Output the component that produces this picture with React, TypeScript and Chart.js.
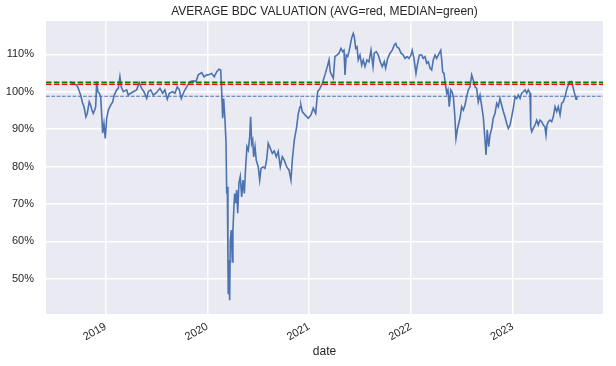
import React, { useEffect, useRef } from "react";
import { Chart, registerables } from "chart.js";

Chart.register(...registerables);

const TITLE = "AVERAGE BDC VALUATION (AVG=red, MEDIAN=green)";
const X_LABEL = "date";
const YEAR_TICKS = [2019, 2020, 2021, 2022, 2023];
const PCT_TICKS = [50, 60, 70, 80, 90, 100, 110];
const X_MIN = 2018.416;
const X_MAX = 2023.887;
const Y_MIN = 40.6;
const Y_MAX = 118.9;
const AVG_LEVEL = 102.0;
const MEDIAN_LEVEL = 102.55;
const LAST_LEVEL = 98.8;

// dates as decimal years
const DATES = [
  2018.651, 2018.684, 2018.717, 2018.733, 2018.756, 2018.776, 2018.789, 2018.808, 2018.821, 2018.841,
  2018.855, 2018.867, 2018.88, 2018.894, 2018.904, 2018.914, 2018.926, 2018.939, 2018.953, 2018.966,
  2018.972, 2018.985, 2018.998, 2019.012, 2019.028, 2019.051, 2019.071, 2019.086, 2019.11, 2019.126,
  2019.142, 2019.155, 2019.175, 2019.208, 2019.224, 2019.248, 2019.273, 2019.306, 2019.332, 2019.356,
  2019.378, 2019.405, 2019.42, 2019.444, 2019.47, 2019.503, 2019.535, 2019.562, 2019.584, 2019.607,
  2019.627, 2019.66, 2019.683, 2019.705, 2019.725, 2019.745, 2019.771, 2019.798, 2019.83, 2019.862,
  2019.889, 2019.912, 2019.945, 2019.968, 2019.994,
  2020.01, 2020.043, 2020.069, 2020.092, 2020.115, 2020.132, 2020.141, 2020.151, 2020.161, 2020.174,
  2020.184, 2020.191, 2020.197, 2020.203, 2020.206, 2020.213, 2020.22, 2020.226, 2020.236, 2020.246,
  2020.252, 2020.262, 2020.269, 2020.279, 2020.289, 2020.299, 2020.311, 2020.324, 2020.338, 2020.351,
  2020.364, 2020.377, 2020.39, 2020.403, 2020.417, 2020.426, 2020.436, 2020.446, 2020.456, 2020.469,
  2020.481, 2020.501, 2020.515, 2020.528, 2020.547, 2020.567, 2020.583, 2020.599, 2020.619, 2020.639,
  2020.658, 2020.678, 2020.697, 2020.717, 2020.737, 2020.756, 2020.78, 2020.803, 2020.822, 2020.835,
  2020.855, 2020.878, 2020.894, 2020.911, 2020.92, 2020.933, 2020.96, 2020.992,
  2021.019, 2021.041, 2021.065, 2021.084, 2021.107, 2021.13, 2021.156, 2021.183, 2021.196, 2021.208,
  2021.222, 2021.238, 2021.254, 2021.274, 2021.294, 2021.313, 2021.33, 2021.343, 2021.353, 2021.365,
  2021.379, 2021.392, 2021.405, 2021.418, 2021.434, 2021.444, 2021.458, 2021.471, 2021.483, 2021.5,
  2021.517, 2021.532, 2021.549, 2021.569, 2021.588, 2021.608, 2021.628, 2021.64, 2021.66, 2021.68,
  2021.699, 2021.719, 2021.739, 2021.752, 2021.772, 2021.795, 2021.817, 2021.837, 2021.851, 2021.863,
  2021.883, 2021.903, 2021.925, 2021.942, 2021.962, 2021.981,
  2022.001, 2022.013, 2022.03, 2022.05, 2022.063, 2022.083, 2022.106, 2022.122, 2022.139, 2022.155,
  2022.171, 2022.188, 2022.204, 2022.22, 2022.237, 2022.253, 2022.269, 2022.293, 2022.303, 2022.312,
  2022.325, 2022.338, 2022.352, 2022.364, 2022.377, 2022.391, 2022.404, 2022.417, 2022.43, 2022.443,
  2022.456, 2022.47, 2022.482, 2022.499, 2022.515, 2022.531, 2022.548, 2022.564, 2022.581, 2022.597,
  2022.613, 2022.63, 2022.646, 2022.662, 2022.679, 2022.696, 2022.711, 2022.728, 2022.738, 2022.75,
  2022.764, 2022.777, 2022.794, 2022.809, 2022.826, 2022.843, 2022.859, 2022.875, 2022.892, 2022.908,
  2022.924, 2022.941, 2022.957, 2022.974, 2022.99,
  2023.006, 2023.023, 2023.039, 2023.055, 2023.072, 2023.088, 2023.104, 2023.121, 2023.138, 2023.153,
  2023.17, 2023.177, 2023.187, 2023.202, 2023.219, 2023.236, 2023.251, 2023.268, 2023.285, 2023.301,
  2023.317, 2023.327, 2023.337, 2023.35, 2023.366, 2023.383, 2023.399, 2023.416, 2023.432, 2023.448,
  2023.465, 2023.481, 2023.497, 2023.514, 2023.53, 2023.546, 2023.563, 2023.58, 2023.595, 2023.612,
  2023.622, 2023.629,
];

// valuation in percent
const VALUATION = [
  102.7, 102.1, 101.8, 100.9, 99.1, 96.9, 96.0, 93.3, 94.2, 97.3,
  96.4, 95.1, 94.2, 95.1, 96.0, 102.7, 100.0, 99.6, 98.7, 92.4,
  88.9, 91.5, 87.5, 92.9, 95.1, 96.4, 97.3, 99.1, 100.5, 100.9,
  104.0, 101.3, 100.0, 100.5, 99.1, 99.6, 100.0, 100.5, 102.4, 100.9,
  100.0, 98.2, 100.0, 100.5, 99.1, 99.8, 100.9, 99.6, 100.5, 98.0,
  99.6, 100.0, 99.6, 101.3, 100.6, 98.2, 100.0, 101.3, 102.7, 102.9,
  102.7, 104.5, 105.1, 104.0, 104.5,
  104.5, 104.9, 104.0, 105.3, 106.0, 105.8, 100.5, 92.9, 98.2, 92.4,
  86.6, 72.8, 74.6, 55.0, 46.1, 55.0, 44.3, 60.3, 63.0, 54.5,
  63.0, 69.3, 72.8, 70.2, 73.7, 67.5, 75.5, 77.3, 71.9, 76.4,
  72.8, 79.9, 85.3, 84.4, 88.0, 93.3, 86.2, 87.1, 82.6, 85.3,
  81.7, 79.9, 76.4, 79.5, 79.9, 79.5, 81.7, 86.2, 84.9, 83.5,
  84.2, 82.6, 84.0, 79.9, 82.6, 81.7, 79.9, 79.1, 76.4, 81.7,
  87.1, 90.6, 94.2, 96.0, 96.4, 94.7, 93.8, 92.9,
  93.8, 95.6, 94.2, 100.0, 100.9, 102.2, 104.5, 107.1, 108.5, 105.3,
  104.5, 103.6, 109.4, 109.8, 110.3, 111.6, 110.7, 111.1, 104.5, 109.8,
  109.4, 110.7, 112.5, 114.3, 115.6, 114.7, 111.6, 112.0, 108.5, 109.8,
  107.1, 108.5, 106.7, 108.5, 108.0, 111.1, 106.7, 110.3, 110.7, 109.8,
  108.0, 106.7, 108.0, 106.3, 108.9, 110.3, 111.1, 112.5, 112.9, 112.0,
  111.6, 110.3, 109.8, 108.9, 109.4, 108.9,
  109.8, 111.1, 108.9, 104.9, 107.1, 109.8, 109.8, 108.9, 109.4, 107.6,
  108.0, 106.3, 105.8, 108.5, 109.8, 108.9, 109.8, 111.1, 108.5, 105.3,
  104.9, 102.2, 99.6, 100.5, 96.0, 100.5, 100.0, 98.7, 94.2, 87.5,
  89.8, 91.5, 92.9, 96.0, 95.1, 96.4, 98.7, 100.5, 101.3, 104.5,
  103.1, 101.3, 100.9, 97.3, 99.1, 96.0, 93.3, 87.1, 83.1, 89.8,
  85.3, 88.4, 90.2, 92.9, 94.2, 96.9, 96.0, 98.2, 96.4, 94.7,
  93.3, 91.5, 90.2, 91.1, 93.3,
  95.6, 98.7, 98.2, 99.1, 98.2, 99.6, 100.0, 100.5, 99.6, 100.5,
  99.6, 90.6, 89.3, 90.2, 91.1, 92.4, 91.1, 92.4, 92.0, 91.1,
  90.6, 88.4, 91.1, 92.0, 92.4, 92.0, 93.3, 96.0, 94.7, 96.0,
  93.8, 96.9, 97.3, 98.7, 100.5, 101.8, 102.7, 102.7, 100.9, 99.1,
  98.0, 98.7,
];

const FONT_FAMILY = "'Liberation Sans', Arial, Helvetica, sans-serif";
const TEXT_COLOR = "#262626";
const LINE_COLOR = "#4c72b0";
const BG_COLOR = "#eaeaf2";

export default function App() {
  const canvasRef = useRef<HTMLCanvasElement | null>(null);

  useEffect(() => {
    const canvas = canvasRef.current;
    if (!canvas) return;

    const n = Math.min(DATES.length, VALUATION.length);
    const series = [] as { x: number; y: number }[];
    for (let i = 0; i < n; i++) series.push({ x: DATES[i], y: VALUATION[i] });

    const bgPlugin = {
      id: "plotBackground",
      beforeDraw(chart: any) {
        const { ctx, chartArea } = chart;
        if (!chartArea) return;
        ctx.save();
        ctx.fillStyle = BG_COLOR;
        ctx.fillRect(chartArea.left, chartArea.top, chartArea.right - chartArea.left, chartArea.bottom - chartArea.top);
        ctx.restore();
      },
    };

    // title centred over the plot area (like matplotlib's axes title)
    const axesTitlePlugin = {
      id: "axesTitle",
      afterDraw(chart: any) {
        const { ctx, chartArea } = chart;
        if (!chartArea) return;
        ctx.save();
        ctx.fillStyle = TEXT_COLOR;
        ctx.font = `12px ${FONT_FAMILY}`;
        ctx.textAlign = "center";
        ctx.textBaseline = "middle";
        ctx.fillText(TITLE, (chartArea.left + chartArea.right) / 2, 11.5);
        ctx.restore();
      },
    };

    const hline = (level: number, color: string, width: number, dash: number[], order: number) => ({
      type: "line" as const,
      data: [
        { x: X_MIN, y: level },
        { x: X_MAX, y: level },
      ],
      borderColor: color,
      borderWidth: width,
      borderDash: dash,
      pointRadius: 0,
      fill: false,
      order,
    });

    const chart = new Chart(canvas, {
      type: "line",
      data: {
        datasets: [
          {
            type: "line",
            data: series,
            borderColor: LINE_COLOR,
            borderWidth: 1.6,
            pointRadius: 0,
            tension: 0,
            fill: false,
            order: 4,
          },
          hline(LAST_LEVEL, LINE_COLOR, 1.1, [3.7, 1.6], 3),
          hline(AVG_LEVEL, "#ff0000", 1.5, [5.5, 2.4], 2),
          hline(MEDIAN_LEVEL, "#008000", 1.5, [5.5, 2.4], 1),
        ],
      },
      options: {
        responsive: false,
        animation: false,
        devicePixelRatio: 1,
        layout: { padding: { left: 0, right: 13, top: 21, bottom: 0 } },
        plugins: {
          legend: { display: false },
          tooltip: { enabled: false },
          title: { display: false },
        },
        scales: {
          x: {
            type: "linear",
            min: X_MIN,
            max: X_MAX,
            afterBuildTicks: (scale: any) => {
              scale.ticks = YEAR_TICKS.map((v) => ({ value: v }));
            },
            afterFit: (scale: any) => {
              scale.height = 52;
            },
            grid: { color: "#ffffff", lineWidth: 1.5, drawTicks: false },
            border: { display: false },
            ticks: {
              autoSkip: false,
              minRotation: 30,
              maxRotation: 30,
              padding: 6,
              color: TEXT_COLOR,
              font: { family: FONT_FAMILY, size: 11 },
              callback: (v: any) => String(v),
            },
            title: {
              display: true,
              text: X_LABEL,
              color: TEXT_COLOR,
              font: { family: FONT_FAMILY, size: 12 },
              padding: { top: 0, bottom: 7 },
            },
          },
          y: {
            type: "linear",
            min: Y_MIN,
            max: Y_MAX,
            afterBuildTicks: (scale: any) => {
              scale.ticks = PCT_TICKS.map((v) => ({ value: v }));
            },
            afterFit: (scale: any) => {
              scale.width = 46;
            },
            grid: { color: "#ffffff", lineWidth: 1.5, drawTicks: false },
            border: { display: false },
            ticks: {
              padding: 12,
              color: TEXT_COLOR,
              font: { family: FONT_FAMILY, size: 11 },
              callback: (v: any) => `${v}%`,
            },
          },
        },
      },
      plugins: [bgPlugin, axesTitlePlugin],
    } as any);

    return () => chart.destroy();
  }, []);

  return (
    <div style={{ position: "absolute", left: 0, top: 0, width: 616, height: 366, background: "#ffffff" }}>
      <canvas ref={canvasRef} width={616} height={366} style={{ display: "block", width: 616, height: 366 }} />
    </div>
  );
}
